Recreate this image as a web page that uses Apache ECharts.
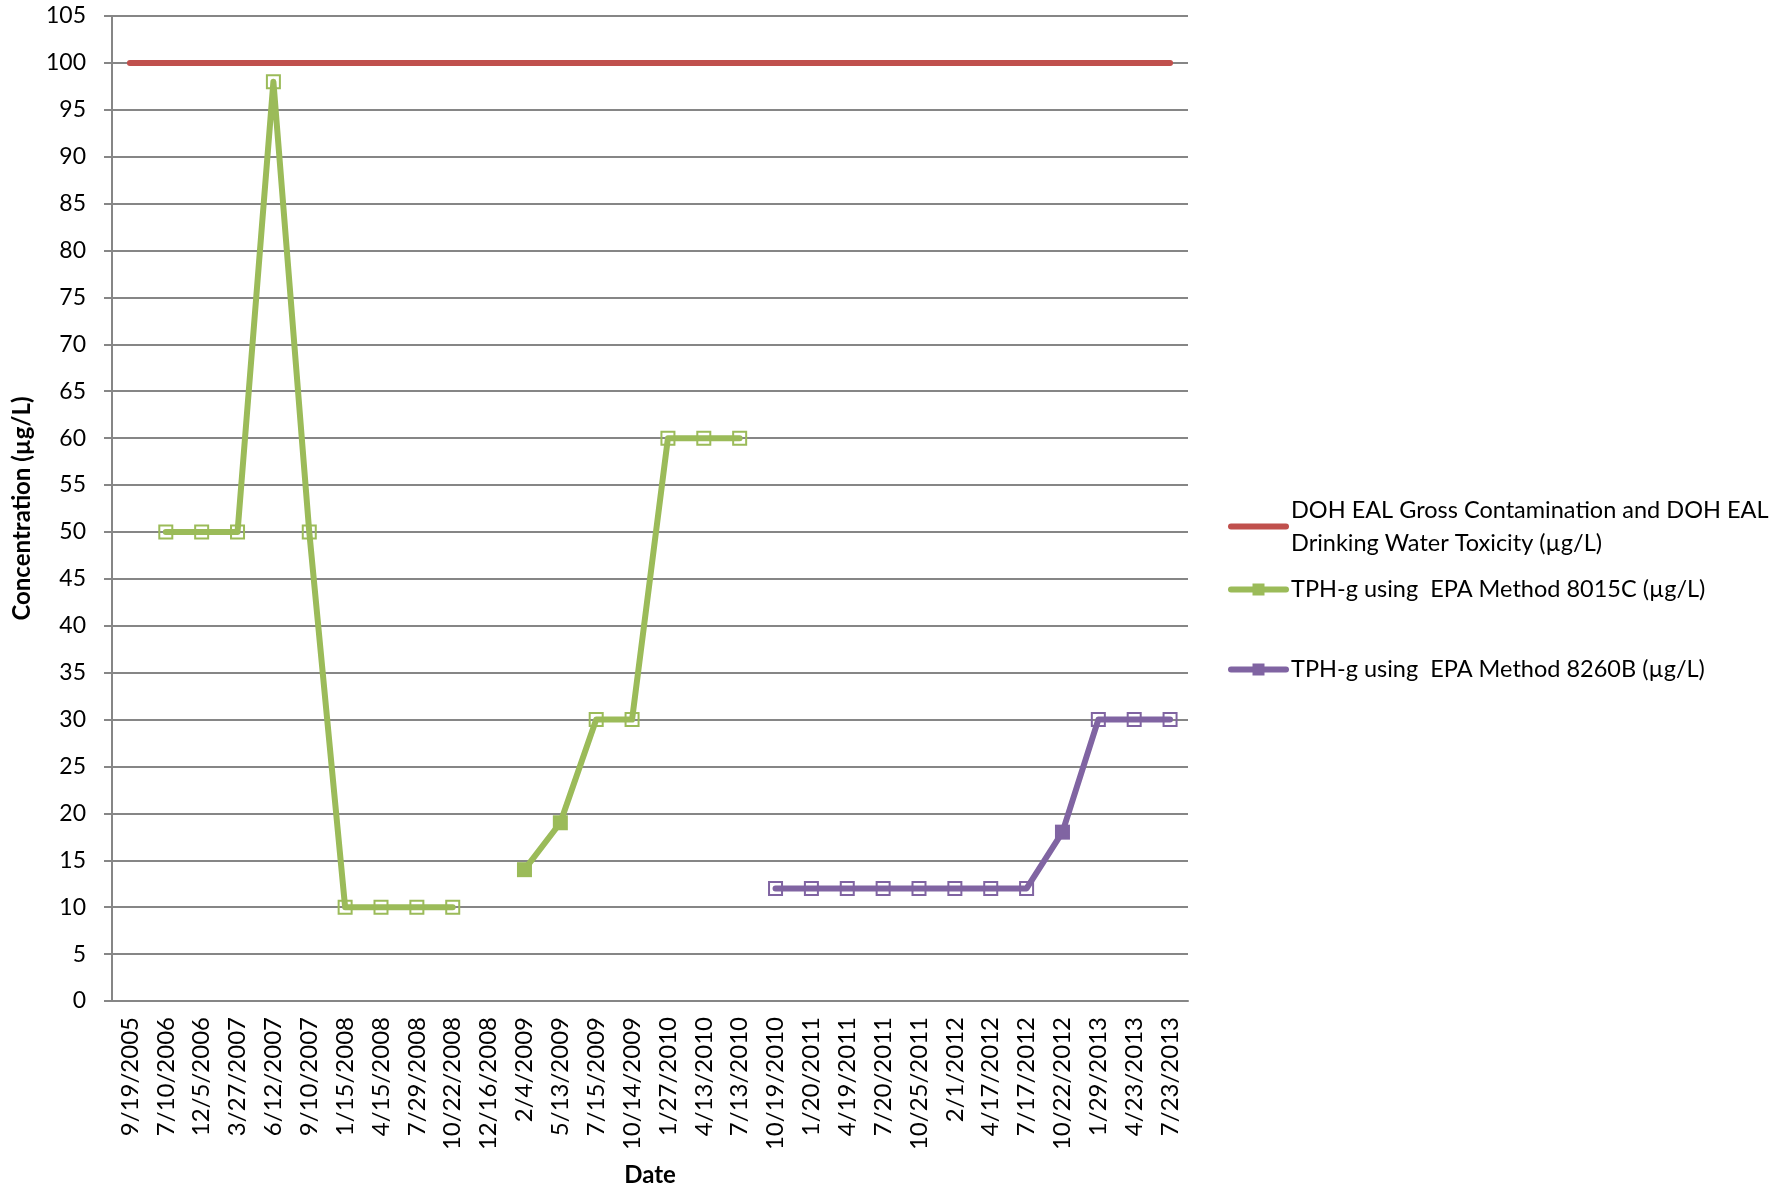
<!DOCTYPE html>
<html>
<head>
<meta charset="utf-8">
<script src="https://cdn.jsdelivr.net/npm/echarts@6/dist/echarts.min.js"></script>
<style>
html,body{margin:0;padding:0;background:#fff;}
#chart{width:1788px;height:1192px;}
</style>
</head>
<body>
<div id="chart"></div>
<script>
const categories = ['9/19/2005','7/10/2006','12/5/2006','3/27/2007','6/12/2007','9/10/2007','1/15/2008','4/15/2008','7/29/2008','10/22/2008','12/16/2008','2/4/2009','5/13/2009','7/15/2009','10/14/2009','1/27/2010','4/13/2010','7/13/2010','10/19/2010','1/20/2011','4/19/2011','7/20/2011','10/25/2011','2/1/2012','4/17/2012','7/17/2012','10/22/2012','1/29/2013','4/23/2013','7/23/2013'];
const dohEAL = [100,100,100,100,100,100,100,100,100,100,100,100,100,100,100,100,100,100,100,100,100,100,100,100,100,100,100,100,100,100];
const tph8015 = [null,50,50,50,98,50,10,10,10,10,null,14,19,30,30,60,60,60,null,null,null,null,null,null,null,null,null,null,null,null];
const detected8015 = [0,0,0,0,0,0,0,0,0,0,0,1,1,0,0,0,0,0,0,0,0,0,0,0,0,0,0,0,0,0];
const tph8260 = [null,null,null,null,null,null,null,null,null,null,null,null,null,null,null,null,null,null,12,12,12,12,12,12,12,12,18,30,30,30];
const detected8260 = [0,0,0,0,0,0,0,0,0,0,0,0,0,0,0,0,0,0,0,0,0,0,0,0,0,0,1,0,0,0];
const seriesNames = ['DOH EAL Gross Contamination and DOH EAL Drinking Water Toxicity (µg/L)','TPH-g using  EPA Method 8015C (µg/L)','TPH-g using  EPA Method 8260B (µg/L)'];

const RED = '#C0504D', GREEN = '#9BBB59', PURPLE = '#8064A2';
const FONT = 'Lato';

function points(values, flags, color) {
  return values.map((v, i) => {
    if (v === null) return null;
    if (flags[i]) return { value: v, symbolSize: 15, itemStyle: { color: color, borderWidth: 0 } };
    return { value: v, symbolSize: 13, itemStyle: { color: 'rgba(0,0,0,0)', borderColor: color, borderWidth: 2 } };
  });
}

const chart = echarts.init(document.getElementById('chart'), null, { renderer: 'canvas' });
const legendBase = {
  orient: 'vertical', left: 1228, itemWidth: 55, itemHeight: 15, itemGap: 0, padding: 0,
  selectedMode: false,
  lineStyle: { width: 6 },
  textStyle: { fontFamily: FONT, fontSize: 23.5, color: '#000', lineHeight: 33 }
};
chart.setOption({
  animation: false,
  textStyle: { fontFamily: FONT },
  grid: { left: 112, right: 600, top: 16, bottom: 186, containLabel: false },
  legend: [
    Object.assign({}, legendBase, { top: 477, data: [seriesNames[0]],
      itemStyle: { opacity: 0 },
      formatter: () => 'DOH EAL Gross Contamination and DOH EAL\nDrinking Water Toxicity (µg/L)',
      textStyle: Object.assign({}, legendBase.textStyle, { padding: [33, 0, 0, 0] }) }),
    Object.assign({}, legendBase, { top: 573, data: [seriesNames[1]] }),
    Object.assign({}, legendBase, { top: 653, data: [seriesNames[2]] })
  ],
  xAxis: {
    type: 'category', data: categories, boundaryGap: true,
    name: 'Date', nameLocation: 'middle', nameGap: 162,
    nameTextStyle: { fontFamily: FONT, fontSize: 24, fontWeight: 'bold', color: '#000' },
    axisLine: { lineStyle: { color: '#868686', width: 2 } },
    axisTick: { show: false },
    axisLabel: { rotate: 90, interval: 0, margin: 16, fontFamily: FONT, fontSize: 24, color: '#000' }
  },
  yAxis: {
    type: 'value', min: 0, max: 105, interval: 5,
    name: 'Concentration (µg/L)', nameLocation: 'middle', nameGap: 78, nameRotate: 90,
    nameTextStyle: { fontFamily: FONT, fontSize: 24, fontWeight: 'bold', color: '#000' },
    axisLine: { show: true, lineStyle: { color: '#868686', width: 2 } },
    axisTick: { show: true, length: 8, lineStyle: { color: '#868686', width: 2 } },
    axisLabel: { margin: 26, fontFamily: FONT, fontSize: 23, color: '#000' },
    splitLine: { lineStyle: { color: '#868686', width: 2 } }
  },
  series: [
    {
      name: seriesNames[0], type: 'line', data: dohEAL, symbol: 'none', showSymbol: false,
      lineStyle: { color: RED, width: 6, cap: 'round' }, itemStyle: { color: RED },
      emphasis: { disabled: true }, z: 3
    },
    {
      name: seriesNames[1], type: 'line', data: points(tph8015, detected8015, GREEN),
      symbol: 'rect', symbolSize: 15, connectNulls: false,
      lineStyle: { color: GREEN, width: 6, cap: 'round', join: 'round' }, itemStyle: { color: GREEN },
      emphasis: { disabled: true }, z: 4
    },
    {
      name: seriesNames[2], type: 'line', data: points(tph8260, detected8260, PURPLE),
      symbol: 'rect', symbolSize: 15, connectNulls: false,
      lineStyle: { color: PURPLE, width: 6, cap: 'round', join: 'round' }, itemStyle: { color: PURPLE },
      emphasis: { disabled: true }, z: 4
    }
  ]
});
</script>
</body>
</html>
